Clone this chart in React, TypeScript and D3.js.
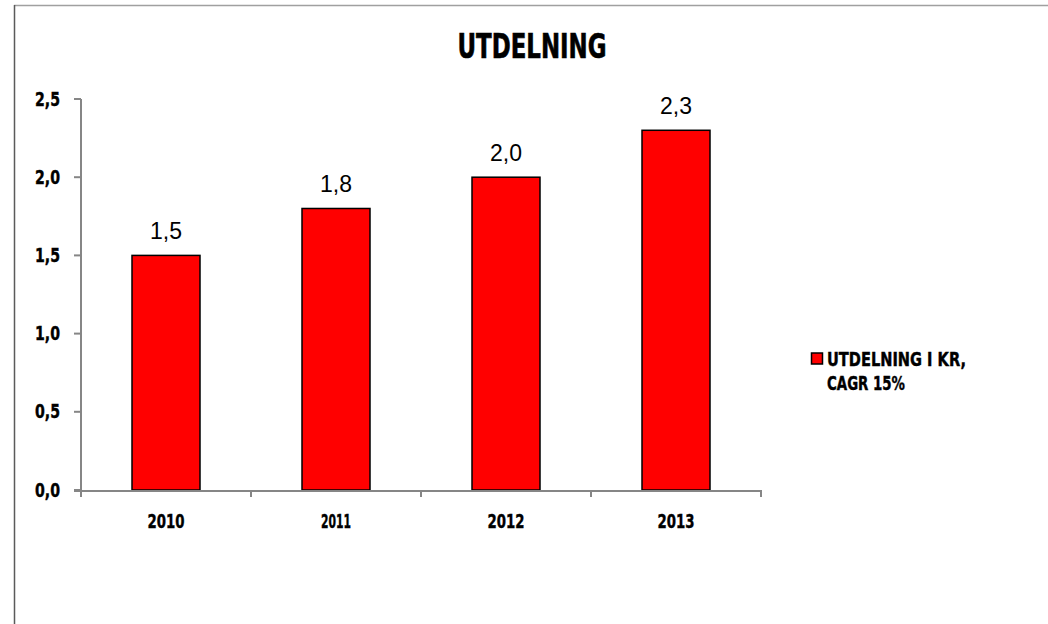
import React from "react";
import * as d3 from "d3";

const categories = ["2010", "2011", "2012", "2013"];
const values = [1.5, 1.8, 2.0, 2.3];
const valueLabels = ["1,5", "1,8", "2,0", "2,3"];
const yTicks = [0, 0.5, 1.0, 1.5, 2.0, 2.5];
const yTickLabels = ["0,0", "0,5", "1,0", "1,5", "2,0", "2,5"];
const title = "UTDELNING";
const legendLines = ["UTDELNING I KR,", "CAGR 15%"];

const W = 1048;
const H = 624;
const plot = { left: 81, right: 761, top: 99, bottom: 490 };
const condensed = "'Liberation Sans Narrow', 'DejaVu Sans Condensed', 'Roboto Condensed', sans-serif";

export default function App() {
  const x = d3.scaleBand<string>().domain(categories).range([plot.left, plot.right]).paddingInner(0.6).paddingOuter(0.3);
  const xOuter = d3.scaleBand<string>().domain(categories).range([plot.left, plot.right]);
  const y = d3.scaleLinear().domain([0, 2.5]).range([plot.bottom, plot.top]);

  const catEdges = [...categories.map((c) => xOuter(c) as number), plot.right];

  return (
    <svg width={W} height={H} style={{ position: "fixed", left: 0, top: 0, background: "#fff" }}>
      <rect x={0} y={0} width={W} height={H} fill="#fff" />
      {/* frame */}
      <line x1={14} y1={5.5} x2={W} y2={5.5} stroke="#a0a0a0" strokeWidth={1.5} />
      <line x1={14.5} y1={5} x2={14.5} y2={H} stroke="#5a5a5a" strokeWidth={1.5} />

      {/* title */}
      <text x={532} y={58} textAnchor="middle" fontFamily={condensed} fontWeight="bold" fontSize={33} textLength={149} lengthAdjust="spacingAndGlyphs" fill="#000" stroke="#000" strokeWidth={0.6}>
        {title}
      </text>

      {/* y axis */}
      <line x1={plot.left} y1={plot.top} x2={plot.left} y2={plot.bottom} stroke="#868686" strokeWidth={2} />
      {yTicks.map((t, i) => (
        <g key={t}>
          <line x1={plot.left - 7} x2={plot.left} y1={y(t)} y2={y(t)} stroke="#868686" strokeWidth={2} />
          <text x={60} y={y(t) + 6.5} textAnchor="end" fontFamily={condensed} fontWeight="bold" fontSize={19} textLength={25} lengthAdjust="spacingAndGlyphs" fill="#000" stroke="#000" strokeWidth={0.4}>
            {yTickLabels[i]}
          </text>
        </g>
      ))}

      {/* bars */}
      {categories.map((c, i) => (
        <rect key={c} x={x(c)} y={y(values[i])} width={x.bandwidth()} height={plot.bottom - y(values[i])} fill="#ff0000" stroke="#000" strokeWidth={1.5} />
      ))}

      {/* x axis */}
      <line x1={plot.left - 7} y1={plot.bottom + 1} x2={plot.right} y2={plot.bottom + 1} stroke="#868686" strokeWidth={2} />
      {catEdges.map((e, i) => (
        <line key={i} x1={e} x2={e} y1={plot.bottom} y2={plot.bottom + 7} stroke="#868686" strokeWidth={2} />
      ))}
      {categories.map((c) => (
        <text key={c} x={(xOuter(c) as number) + xOuter.bandwidth() / 2} y={527.5} textAnchor="middle" fontFamily={condensed} fontWeight="bold" fontSize={19} textLength={c === "2011" ? 30 : 37} lengthAdjust="spacingAndGlyphs" fill="#000" stroke="#000" strokeWidth={0.4}>
          {c}
        </text>
      ))}

      {/* data labels */}
      {categories.map((c, i) => (
        <text key={c} x={(x(c) as number) + x.bandwidth() / 2} y={y(values[i]) - 16} textAnchor="middle" fontFamily="'Liberation Sans', Arial, sans-serif" fontSize={23} fill="#000">
          {valueLabels[i]}
        </text>
      ))}

      {/* legend */}
      <rect x={811.5} y={353} width={11} height={11} fill="#ff0000" stroke="#000" strokeWidth={1.5} />
      <text x={827} y={365.5} fontFamily={condensed} fontWeight="bold" fontSize={19} textLength={139} lengthAdjust="spacingAndGlyphs" fill="#000" stroke="#000" strokeWidth={0.4}>
        {legendLines[0]}
      </text>
      <text x={827} y={389.5} fontFamily={condensed} fontWeight="bold" fontSize={19} textLength={78} lengthAdjust="spacingAndGlyphs" fill="#000" stroke="#000" strokeWidth={0.4}>
        {legendLines[1]}
      </text>
    </svg>
  );
}
